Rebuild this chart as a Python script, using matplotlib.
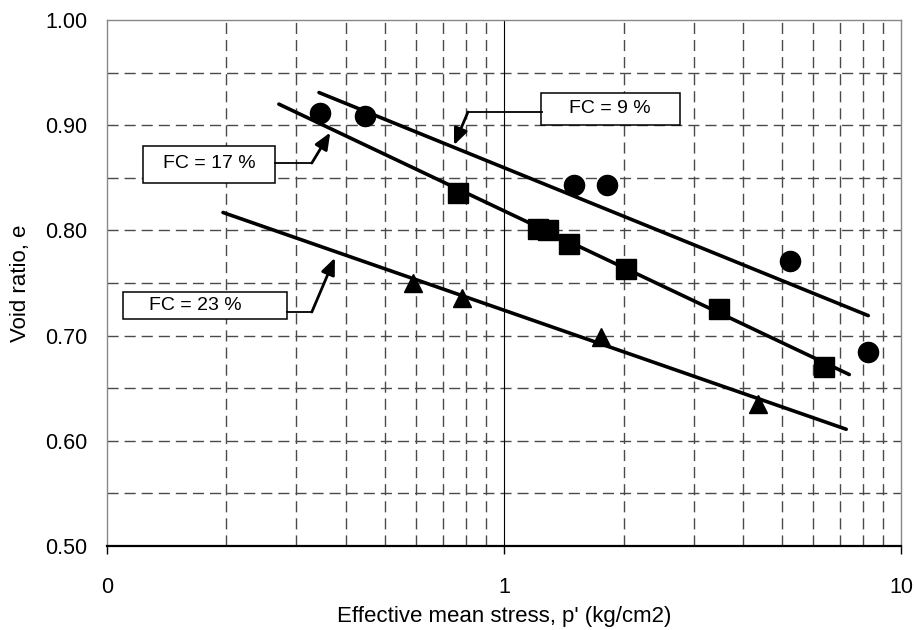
import matplotlib.pyplot as plt
from matplotlib.patches import Rectangle
from matplotlib.ticker import FixedLocator, FixedFormatter, NullFormatter

plt.rcParams['font.family'] = ['Liberation Sans', 'DejaVu Sans']

# Datos medidos: esfuerzo medio efectivo p' (kg/cm2) y relación de vacíos e
p_fc9 = [0.344, 0.447, 1.50, 1.82, 5.25, 8.26]
e_fc9 = [0.912, 0.909, 0.843, 0.843, 0.771, 0.684]

p_fc17 = [0.766, 1.22, 1.29, 1.46, 2.03, 3.48, 6.40]
e_fc17 = [0.836, 0.801, 0.800, 0.787, 0.763, 0.725, 0.670]

p_fc23 = [0.590, 0.783, 1.75, 4.36]
e_fc23 = [0.750, 0.736, 0.699, 0.635]

# Rectas de ajuste (extremos)
p_fit9, e_fit9 = [0.342, 8.26], [0.931, 0.719]
p_fit17, e_fit17 = [0.271, 7.40], [0.920, 0.663]
p_fit23, e_fit23 = [0.196, 7.27], [0.817, 0.611]

etiquetas = ["FC = 9 %", "FC = 17 %", "FC = 23 %"]

fig = plt.figure(figsize=(9.14, 6.30), dpi=100)
ax = fig.add_axes([0.117, 0.1333, 0.869, 0.835])

ax.set_xscale('log')
ax.set_xlim(0.1, 10)
ax.set_ylim(0.5, 1.0)

# Cuadrícula
grid_kw = dict(color='#4a4a4a', lw=1.0, dashes=(8, 4.3), zorder=1)
for y in [0.55, 0.6, 0.65, 0.7, 0.75, 0.8, 0.85, 0.9, 0.95]:
    ax.axhline(y, **grid_kw)
for x in [0.2, 0.3, 0.4, 0.5, 0.6, 0.7, 0.8, 0.9, 2, 3, 4, 5, 6, 7, 8, 9]:
    ax.axvline(x, **grid_kw)
ax.axvline(1, color='black', lw=0.8, zorder=1)

# Rectas
line_kw = dict(color='black', lw=2.6, solid_capstyle='round', zorder=3)
ax.plot(p_fit9, e_fit9, **line_kw)
ax.plot(p_fit17, e_fit17, **line_kw)
ax.plot(p_fit23, e_fit23, **line_kw)

# Puntos
ax.plot(p_fc9, e_fc9, 'o', color='black', ms=14.5, zorder=4)
ax.plot(p_fc17, e_fc17, 's', color='black', ms=14, zorder=4)
ax.plot(p_fc23, e_fc23, '^', color='black', ms=13.5, zorder=4)

# Cajas con flechas
cajas = [
    ((1.239, 0.9002), (2.775, 0.9306), (1.85, 0.9154), [1.246, 0.811], 0.9125, (0.748, 0.881)),
    ((0.1232, 0.8451), (0.265, 0.8802), (0.181, 0.864), [0.265, 0.328], 0.864, (0.365, 0.893)),
    ((0.1097, 0.7158), (0.284, 0.7414), (0.1666, 0.729), [0.284, 0.328], 0.7224, (0.375, 0.774)),
]
for texto, (c0, c1, tc, hx, hy, tip) in zip(etiquetas, cajas):
    ax.add_patch(Rectangle(c0, c1[0] - c0[0], c1[1] - c0[1], facecolor='white',
                           edgecolor='black', lw=1.1, zorder=5))
    ax.text(tc[0], tc[1], texto, ha='center', va='center', fontsize=14, zorder=6)
    ax.plot(hx, [hy, hy], color='black', lw=1.3, zorder=5)
    ax.annotate('', xy=tip, xytext=(hx[1], hy),
                arrowprops=dict(arrowstyle='-|>,head_length=1.0,head_width=0.42',
                                color='black', lw=2.0, shrinkA=0, shrinkB=0), zorder=5)

# Ejes
ax.xaxis.set_major_locator(FixedLocator([0.1, 1, 10]))
ax.xaxis.set_major_formatter(FixedFormatter(['0', '1', '10']))
ax.xaxis.set_minor_formatter(NullFormatter())
ax.tick_params(axis='x', which='major', length=6, width=1, pad=16, labelsize=15.5)
ax.tick_params(axis='x', which='minor', length=0)
ax.set_yticks([0.5, 0.6, 0.7, 0.8, 0.9, 1.0])
ax.set_yticklabels(['0.50', '0.60', '0.70', '0.80', '0.90', '1.00'])
ax.tick_params(axis='y', length=0, pad=14, labelsize=15.5)

for lado in ['left', 'top', 'right']:
    ax.spines[lado].set_color('#888888')
    ax.spines[lado].set_linewidth(1.0)
ax.spines['bottom'].set_color('black')
ax.spines['bottom'].set_linewidth(1.6)

ax.set_xlabel("Effective mean stress, p' (kg/cm2)", fontsize=16, labelpad=6)
ax.set_ylabel("Void ratio, e", fontsize=16, labelpad=10)

fig.savefig('out.png', dpi=100)
